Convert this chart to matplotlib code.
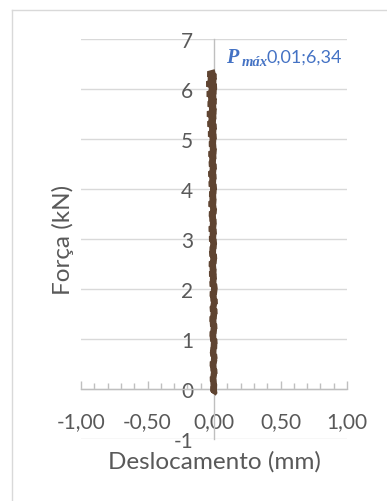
import matplotlib
matplotlib.use("Agg")
import matplotlib.pyplot as plt
from matplotlib.lines import Line2D
from matplotlib.ticker import FixedLocator, MultipleLocator

# Ensaio: força aplicada (kN) x deslocamento medido (mm)
forca = [
    -0.10, -0.05, 0.00, 0.05, 0.10, 0.15, 0.20, 0.25, 0.30, 0.35,
    0.40, 0.45, 0.50, 0.55, 0.60, 0.65, 0.70, 0.75, 0.80, 0.85,
    0.90, 0.95, 1.00, 1.05, 1.10, 1.15, 1.20, 1.25, 1.30, 1.35,
    1.40, 1.45, 1.50, 1.55, 1.60, 1.65, 1.70, 1.75, 1.80, 1.85,
    1.90, 1.95, 2.00, 2.05, 2.10, 2.15, 2.20, 2.25, 2.30, 2.35,
    2.40, 2.45, 2.50, 2.55, 2.60, 2.65, 2.70, 2.75, 2.80, 2.85,
    2.90, 2.95, 3.00, 3.05, 3.10, 3.15, 3.20, 3.25, 3.30, 3.35,
    3.40, 3.45, 3.50, 3.55, 3.60, 3.65, 3.70, 3.75, 3.80, 3.85,
    3.90, 3.95, 4.00, 4.05, 4.10, 4.15, 4.20, 4.25, 4.30, 4.35,
    4.40, 4.45, 4.50, 4.55, 4.60, 4.65, 4.70, 4.75, 4.80, 4.85,
    4.90, 4.95, 5.00, 5.05, 5.10, 5.15, 5.20, 5.25, 5.30, 5.35,
    5.40, 5.45, 5.50, 5.55, 5.60, 5.65, 5.70, 5.75, 5.80, 5.85,
    5.90, 5.95, 6.00, 6.05, 6.10, 6.15, 6.20, 6.25, 6.30, 6.34,
]

deslocamento = [
    -0.005, 0.008, -0.016, 0.010, -0.012, 0.006, -0.018, 0.004, -0.008, 0.012,
    -0.014, 0.005, -0.020, 0.008, -0.006, 0.011, -0.016, 0.002, -0.013, 0.010,
    -0.010, 0.014, -0.018, 0.004, -0.022, 0.008, -0.012, 0.013, -0.019, 0.006,
    -0.024, 0.010, -0.014, 0.016, -0.021, 0.005, -0.010, 0.017, -0.016, 0.008,
    -0.022, 0.012, -0.008, 0.014, -0.024, 0.006, -0.018, 0.010, -0.028, 0.008,
    -0.020, 0.004, -0.030, 0.010, -0.016, 0.012, -0.026, 0.003, -0.022, 0.008,
    -0.015, 0.010, -0.028, 0.005, -0.020, 0.011, -0.032, 0.006, -0.018, 0.008,
    -0.024, 0.003, -0.029, 0.010, -0.016, 0.006, -0.034, 0.008, -0.022, 0.005,
    -0.027, 0.008, -0.018, 0.011, -0.032, 0.005, -0.024, 0.010, -0.036, 0.006,
    -0.021, 0.011, -0.030, 0.003, -0.024, 0.008, -0.035, 0.010, -0.019, 0.006,
    -0.029, 0.005, -0.022, 0.011, -0.038, 0.008, -0.027, 0.013, -0.044, 0.006,
    -0.032, 0.010, -0.048, 0.012, -0.028, 0.008, -0.042, 0.014, -0.036, 0.010,
    -0.050, 0.013, -0.032, 0.016, -0.054, 0.011, -0.040, 0.014, -0.046, 0.010,
]

x_ticks = [-1.0, -0.5, 0.0, 0.5, 1.0]
x_tick_labels = ["-1,00", "-0,50", "0,00", "0,50", "1,00"]
y_ticks = [-1, 0, 1, 2, 3, 4, 5, 6, 7]
y_tick_labels = ["-1", "0", "1", "2", "3", "4", "5", "6", "7"]

pmax_x, pmax_y = deslocamento[-1], forca[-1]

TEXT = "#595959"
GRID = "#d9d9d9"
AXIS = "#bfbfbf"
LINE = "#5f4431"
BLUE = "#4472c4"
SANS = "Lato"
SERIF = "Liberation Serif"

W, H = 387, 502
fig = plt.figure(figsize=(W / 100, H / 100), dpi=100)
fig.patch.set_facecolor("white")

# chart-area border (left and top edges)
fig.add_artist(Line2D([12 / W, 12 / W], [0, 1 - 11 / H], transform=fig.transFigure,
                      color=GRID, lw=1.0))
fig.add_artist(Line2D([12 / W, 1], [1 - 11 / H, 1 - 11 / H], transform=fig.transFigure,
                      color=GRID, lw=1.0))

ax = fig.add_axes([81 / W, 62 / H, 266 / W, 400 / H])
ax.set_facecolor("none")
ax.set_xlim(-1, 1)
ax.set_ylim(-1, 7)

ax.plot(deslocamento, forca, color=LINE, lw=4.2, solid_joinstyle="bevel",
        solid_capstyle="butt", zorder=4)

# axes crossing at the origin
for side in ("top", "right"):
    ax.spines[side].set_visible(False)
ax.spines["left"].set_position(("data", 0))
ax.spines["bottom"].set_position(("data", 0))
for side in ("left", "bottom"):
    ax.spines[side].set_color(AXIS)
    ax.spines[side].set_linewidth(1.0)
    ax.spines[side].set_zorder(2)

ax.xaxis.set_major_locator(FixedLocator(x_ticks))
ax.set_xticklabels(x_tick_labels)
ax.xaxis.set_minor_locator(MultipleLocator(0.1))
ax.tick_params(axis="x", which="major", direction="in", length=5.5, width=1.0,
               color=AXIS, pad=16, labelsize=15, labelcolor=TEXT)
ax.tick_params(axis="x", which="minor", direction="in", length=4.0, width=1.0,
               color=AXIS)

ax.yaxis.set_major_locator(FixedLocator(y_ticks))
ax.set_yticklabels(y_tick_labels)
ax.tick_params(axis="y", which="both", length=0, pad=15, labelsize=15,
               labelcolor=TEXT)

for lab in ax.get_xticklabels() + ax.get_yticklabels():
    lab.set_fontfamily(SANS)

ax.grid(True, axis="y", color=GRID, lw=1.0, zorder=1)
ax.set_axisbelow(True)

# axis titles
fig.text(214 / W, 1 - 462 / H, "Deslocamento (mm)", ha="center", va="center",
         fontsize=17.5, color=TEXT, family=SANS)
fig.text(63 / W, 1 - 240 / H, "Força (kN)", rotation=90, ha="center", va="center",
         fontsize=17.5, color=TEXT, family=SANS)

# peak-load data label
valor = f"{pmax_x:.2f};{pmax_y:.2f}".replace(".", ",")
ax.annotate("P", xy=(pmax_x, pmax_y), xytext=(8.0, 7.2), textcoords="offset points",
            ha="left", va="baseline", fontsize=14.5, color=BLUE, family=SERIF,
            fontweight="bold", fontstyle="italic", zorder=5)
ax.annotate("máx", xy=(pmax_x, pmax_y), xytext=(19.0, 5.0), textcoords="offset points",
            ha="left", va="baseline", fontsize=10.5, color=BLUE, family=SERIF,
            fontweight="bold", fontstyle="italic", zorder=5)
ax.annotate(valor, xy=(pmax_x, pmax_y), xytext=(37.0, 7.2), textcoords="offset points",
            ha="left", va="baseline", fontsize=13, color=BLUE, family=SANS,
            zorder=5)

fig.savefig("out.png", dpi=100, facecolor="white")
